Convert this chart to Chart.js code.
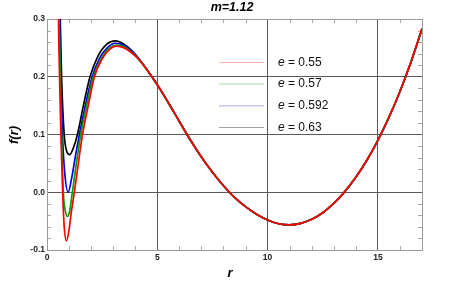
<!DOCTYPE html>
<html>
<head>
<meta charset="utf-8">
<script src="https://cdn.jsdelivr.net/npm/chart.js@4/dist/chart.umd.min.js"></script>
<style>
  html, body { margin: 0; padding: 0; background: #fff; }
  #wrap { width: 457px; height: 286px; position: relative; }
</style>
</head>
<body>
<div id="wrap"><canvas id="c" width="457" height="286"></canvas></div>
<script>
// ---- Data ----
const chartTitle = 'm=1.12';
const xTitle = 'r';
const yTitle = 'f(r)';
const eValues = [0.55, 0.57, 0.592, 0.63];

// shared far part of all four curves (r >= 4.5)
const tailR = [4.5, 5, 5.5, 6, 6.5, 7, 7.5, 8, 8.5, 9, 9.5, 10, 10.5, 11, 11.5, 12, 12.5, 13, 13.5, 14, 14.5, 15, 15.5, 16, 16.5, 17];
const tailF = [0.214, 0.186, 0.155, 0.1226, 0.0904, 0.0609, 0.0345, 0.0113, -0.0089, -0.025, -0.038, -0.048, -0.0545, -0.0565, -0.0539, -0.0469, -0.0354, -0.0194, 0.0011, 0.026, 0.0555, 0.09, 0.1295, 0.1745, 0.2255, 0.283];

// e = 0.55 (red)
const redR = [0.45, 0.52, 0.57, 0.63, 0.71, 0.78, 0.88, 0.98, 1.1, 1.24, 1.42, 1.61, 1.87, 2.15, 2.5, 2.85, 3.15, 3.5, 4.0];
const redF = [0.6, 0.3, 0.2, 0.1, 0.0, -0.06, -0.084, -0.07, -0.035, 0.0, 0.05, 0.1, 0.15, 0.2, 0.231, 0.248, 0.253, 0.25, 0.236];
// e = 0.57 (green)
const greenR = [0.48, 0.55, 0.6, 0.66, 0.74, 0.82, 0.93, 1.03, 1.15, 1.33, 1.53, 1.8, 2.1, 2.45, 2.8, 3.15, 3.5, 4.0];
const greenF = [0.55, 0.3, 0.2, 0.1, 0.0, -0.03, -0.042, -0.032, 0.0, 0.05, 0.1, 0.15, 0.2, 0.231, 0.249, 0.255, 0.252, 0.237];
// e = 0.592 (blue)
const blueR = [0.5, 0.57, 0.62, 0.7, 0.8, 0.96, 1.12, 1.3, 1.47, 1.75, 2.05, 2.4, 2.75, 3.1, 3.5, 4.0];
const blueF = [0.55, 0.3, 0.2, 0.1, 0.035, 0.0, 0.025, 0.065, 0.1, 0.152, 0.2, 0.233, 0.251, 0.258, 0.254, 0.238];
// e = 0.63 (black)
const blackR = [0.5, 0.6, 0.66, 0.78, 0.9, 1.03, 1.18, 1.38, 1.65, 1.95, 2.3, 2.7, 3.1, 3.5, 4.0];
const blackF = [0.5, 0.3, 0.2, 0.1, 0.07, 0.065, 0.075, 0.1, 0.15, 0.2, 0.235, 0.256, 0.262, 0.256, 0.239];

const xTickStep = 5;
const yTickStep = 0.1;

// ---- build datasets ----
function pts(rs, fs) {
  const a = rs.map((r, i) => ({ x: r, y: fs[i] }));
  return a.concat(tailR.map((r, i) => ({ x: r, y: tailF[i] })));
}
const lineColors = ['#ff0000', '#00a000', '#0000e0', '#000000'];
const legendColors = ['#ffb0b0', '#a8dca8', '#b8b8e8', '#a0a0a0'];
const seriesData = [pts(redR, redF), pts(greenR, greenF), pts(blueR, blueF), pts(blackR, blackF)];

const datasets = eValues.map((e, i) => ({
  label: 'e = ' + e,
  data: seriesData[i],
  borderColor: lineColors[i],
  backgroundColor: lineColors[i],
  borderWidth: 1.7,
  pointRadius: 0,
  fill: false,
  cubicInterpolationMode: 'monotone',
  order: i
}));

const FONT = 'Liberation Sans, Arial, Helvetica, sans-serif';

const decor = {
  id: 'decor',
  beforeDatasetsDraw(chart) {
    const ctx = chart.ctx;
    const a = chart.chartArea;
    const xs = chart.scales.x, ys = chart.scales.y;
    ctx.save();
    ctx.strokeStyle = '#aaaaaa';
    ctx.lineWidth = 1;
    ctx.beginPath();
    for (let v = 1; v < 17; v++) {
      if (v % 5 === 0) continue;
      const px = Math.round(xs.getPixelForValue(v)) + 0.5;
      ctx.moveTo(px, a.bottom); ctx.lineTo(px, a.bottom - 4);
      ctx.moveTo(px, a.top); ctx.lineTo(px, a.top + 4);
    }
    for (let k = -4; k <= 14; k++) {
      if (k % 5 === 0) continue;
      const v = k * 0.02;
      const py = Math.round(ys.getPixelForValue(v)) + 0.5;
      ctx.moveTo(a.left, py); ctx.lineTo(a.left + 4, py);
      ctx.moveTo(a.right, py); ctx.lineTo(a.right - 4, py);
    }
    ctx.stroke();
    ctx.strokeStyle = '#9a9a9a';
    ctx.strokeRect(Math.round(a.left) + 0.5, Math.round(a.top) + 0.5,
                   Math.round(a.right) - Math.round(a.left), Math.round(a.bottom) - Math.round(a.top));
    ctx.restore();
  },
  afterDraw(chart) {
    const ctx = chart.ctx;
    ctx.save();
    ctx.fillStyle = '#000';
    // title
    ctx.font = 'italic bold 12.5px ' + FONT;
    ctx.textAlign = 'center';
    ctx.textBaseline = 'middle';
    ctx.fillText(chartTitle, 232, 8);
    // x axis title
    ctx.font = 'italic bold 13px ' + FONT;
    ctx.fillText(xTitle, 230, 273);
    // y axis title
    ctx.save();
    ctx.translate(14, 135);
    ctx.rotate(-Math.PI / 2);
    ctx.fillText(yTitle, 0, 0);
    ctx.restore();
    // legend
    const rowsY = [62.5, 84, 105.8, 127.5];
    chart.data.datasets.forEach((ds, i) => {
      const y = rowsY[i];
      ctx.strokeStyle = legendColors[i];
      ctx.lineWidth = 1.2;
      ctx.beginPath();
      ctx.moveTo(219, y); ctx.lineTo(264, y);
      ctx.stroke();
      ctx.textAlign = 'left';
      ctx.fillStyle = '#111';
      ctx.font = 'italic 12px ' + FONT;
      ctx.fillText('e', 278, y);
      const w = ctx.measureText('e').width;
      ctx.font = '12px ' + FONT;
      ctx.fillText(' = ' + eValues[i], 278 + w, y);
    });
    ctx.restore();
  }
};

new Chart(document.getElementById('c'), {
  type: 'line',
  data: { datasets },
  options: {
    responsive: false,
    animation: false,
    devicePixelRatio: 1,
    layout: { padding: { top: 19, right: 35, left: 0, bottom: 0 } },
    plugins: { legend: { display: false }, title: { display: false }, tooltip: { enabled: false } },
    scales: {
      x: {
        type: 'linear',
        min: 0, max: 17,
        border: { display: false },
        grid: { color: '#5a5a5a', lineWidth: 1, drawTicks: false },
        ticks: {
          stepSize: xTickStep, includeBounds: false, padding: 3,
          color: '#222', font: { family: FONT, size: 8.5, weight: 'bold' },
          maxRotation: 0
        },
        afterFit(s) { s.height = 36; }
      },
      y: {
        type: 'linear',
        min: -0.1, max: 0.3,
        border: { display: false },
        grid: { color: '#5a5a5a', lineWidth: 1, drawTicks: false },
        ticks: {
          stepSize: yTickStep, padding: 2,
          color: '#222', font: { family: FONT, size: 8.5, weight: 'bold' },
          callback: v => Number(v).toFixed(1)
        },
        afterFit(s) { s.width = 47; }
      }
    }
  },
  plugins: [decor]
});
</script>
</body>
</html>
